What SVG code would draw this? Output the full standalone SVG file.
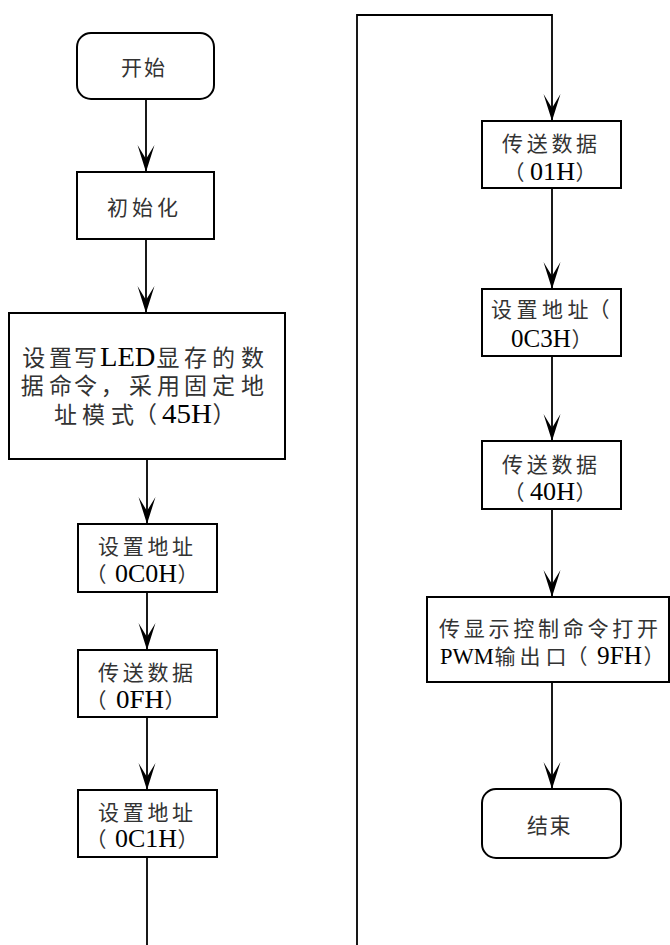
<svg xmlns="http://www.w3.org/2000/svg" width="670" height="945" viewBox="0 0 670 945">
<style>
.box{fill:#fff;stroke:#000;stroke-width:2}
.ln{fill:none;stroke:#000;stroke-width:1.8}
.t{font-family:"Liberation Serif","Noto Sans CJK SC",serif;font-size:21px;fill:#333}
.b{font-size:23px}
.l{fill:#000;font-size:26px}
.lb{font-size:28px}
</style>
<defs>
<marker id="ah" markerUnits="userSpaceOnUse" markerWidth="30" markerHeight="20" viewBox="-28 -10 30 20" refX="0" refY="0" orient="auto">
<path d="M0,0 L-27,-8.5 Q-18,-3 -13,0 Q-18,3 -27,8.5 Z" fill="#000"/>
</marker>
</defs>
<rect width="670" height="945" fill="#fff"/>
<g id="connectors">
<line class="ln" x1="146" y1="99" x2="146" y2="172" marker-end="url(#ah)"/>
<line class="ln" x1="146" y1="239" x2="146" y2="313" marker-end="url(#ah)"/>
<line class="ln" x1="147" y1="459" x2="147" y2="524" marker-end="url(#ah)"/>
<line class="ln" x1="147" y1="592" x2="147" y2="650" marker-end="url(#ah)"/>
<line class="ln" x1="147" y1="717" x2="147" y2="790" marker-end="url(#ah)"/>
<line class="ln" x1="147" y1="857" x2="147" y2="945"/>
<polyline class="ln" points="357,945 357,15 552,15 552,121" marker-end="url(#ah)"/>
<line class="ln" x1="552" y1="188" x2="552" y2="289" marker-end="url(#ah)"/>
<line class="ln" x1="552" y1="356" x2="552" y2="441" marker-end="url(#ah)"/>
<line class="ln" x1="552" y1="509" x2="552" y2="597" marker-end="url(#ah)"/>
<line class="ln" x1="552" y1="682" x2="552" y2="789" marker-end="url(#ah)"/>
</g>
<g id="start">
<rect class="box" x="77" y="33" width="137" height="66" rx="14"/>
<text class="t" x="121 144" y="75">开始</text>
</g>
<g id="init">
<rect class="box" x="77" y="172" width="137" height="67"/>
<text class="t" x="107 132 157" y="215">初始化</text>
</g>
<g id="cmd45">
<rect class="box" x="9" y="313" width="276" height="146"/>
<text class="t b" y="366"><tspan x="22.3 49 74">设置写</tspan><tspan class="l lb" x="100" textLength="55.5" lengthAdjust="spacingAndGlyphs">LED</tspan><tspan x="156.5 184 212 241">显存的数</tspan></text>
<text class="t b" x="20.7 49 74 100.7 129 157 184 212 241" y="394">据命令，采用固定地</text>
<text class="t b" y="423"><tspan x="54 82 111 134">址模式（</tspan><tspan class="l lb" x="162" textLength="50" lengthAdjust="spacingAndGlyphs">45H</tspan><tspan x="212.5">）</tspan></text>
</g>
<g id="addr0c0">
<rect class="box" x="78" y="524" width="139" height="68"/>
<text class="t" x="98 122.7 147.4 172.1" y="554">设置地址</text>
<text class="t" y="582"><tspan x="85.5">（</tspan><tspan class="l" x="115" textLength="62" lengthAdjust="spacingAndGlyphs">0C0H</tspan><tspan x="177.5">）</tspan></text>
</g>
<g id="data0f">
<rect class="box" x="78" y="650" width="139" height="67"/>
<text class="t" x="98 122.7 147.4 172.1" y="680">传送数据</text>
<text class="t" y="708"><tspan x="85.5">（</tspan><tspan class="l" x="116" textLength="48" lengthAdjust="spacingAndGlyphs">0FH</tspan><tspan x="164.5">）</tspan></text>
</g>
<g id="addr0c1">
<rect class="box" x="78" y="790" width="139" height="67"/>
<text class="t" x="98 122.7 147.4 172.1" y="820">设置地址</text>
<text class="t" y="847"><tspan x="85.5">（</tspan><tspan class="l" x="115" textLength="62" lengthAdjust="spacingAndGlyphs">0C1H</tspan><tspan x="177.5">）</tspan></text>
</g>
<g id="data01">
<rect class="box" x="482" y="121" width="139" height="67"/>
<text class="t" x="502 526.7 551.4 576.1" y="151">传送数据</text>
<text class="t" y="180"><tspan x="503.5">（</tspan><tspan class="l" x="530" textLength="45" lengthAdjust="spacingAndGlyphs">01H</tspan><tspan x="575.5">）</tspan></text>
</g>
<g id="addr0c3">
<rect class="box" x="482" y="289" width="139" height="67"/>
<text class="t" x="491 516.5 542 567.5 588.5" y="317">设置地址（</text>
<text class="t" y="347"><tspan class="l" x="511" style="font-size:25px">0C3H</tspan><tspan x="571.5">）</tspan></text>
</g>
<g id="data40">
<rect class="box" x="482" y="441" width="139" height="68"/>
<text class="t" x="502 526.7 551.4 576.1" y="472">传送数据</text>
<text class="t" y="500"><tspan x="503.5">（</tspan><tspan class="l" x="530" textLength="45" lengthAdjust="spacingAndGlyphs">40H</tspan><tspan x="575.5">）</tspan></text>
</g>
<g id="display">
<rect class="box" x="427" y="597" width="242" height="85"/>
<text class="t" x="439 463.75 488.5 513.25 538 562.75 587.5 612.25 637" y="636">传显示控制命令打开</text>
<text class="t" y="664"><tspan class="l" x="440" style="font-size:22.5px">PWM</tspan><tspan x="494.5 519.5 545.5 566.5">输出口（</tspan><tspan class="l" x="597" textLength="45" lengthAdjust="spacingAndGlyphs">9FH</tspan><tspan x="643.5">）</tspan></text>
</g>
<g id="end">
<rect class="box" x="482" y="789" width="139" height="69" rx="14"/>
<text class="t" x="527 549.5" y="833">结束</text>
</g>
</svg>
